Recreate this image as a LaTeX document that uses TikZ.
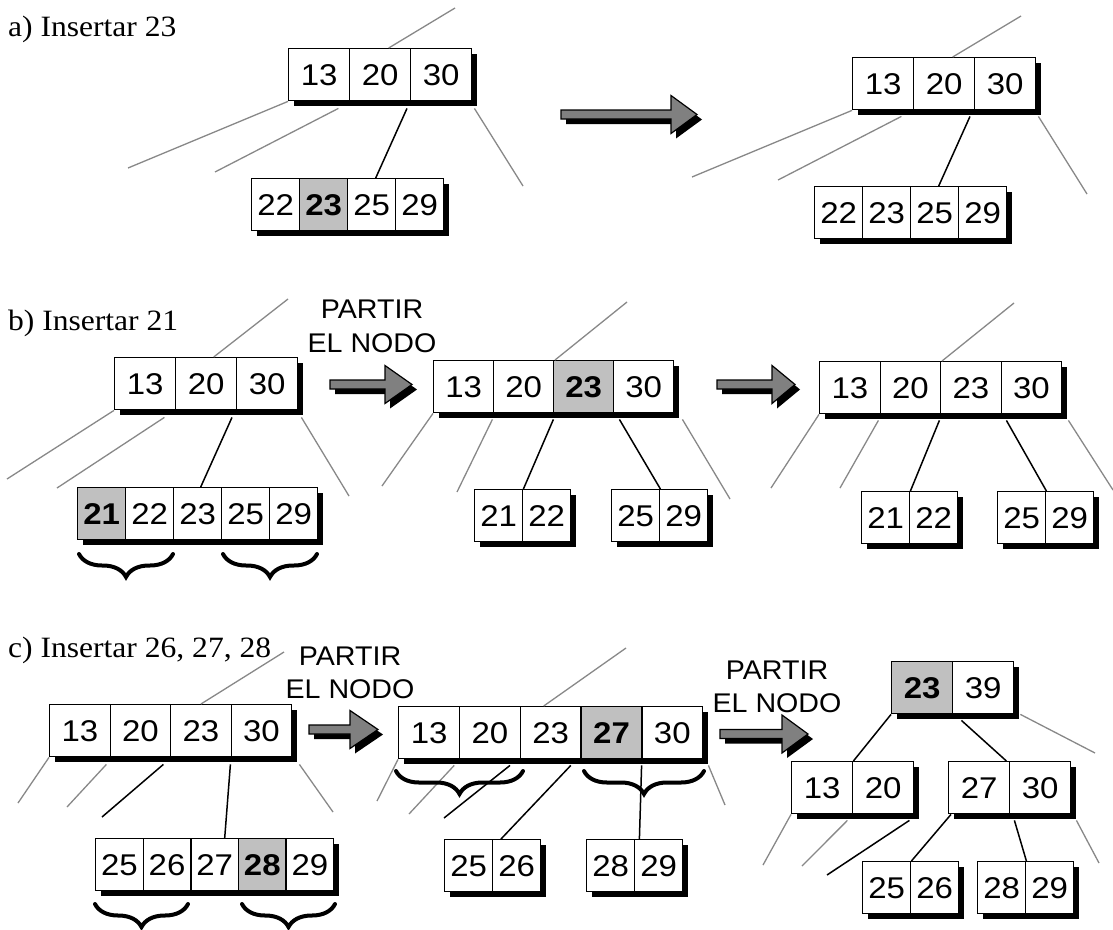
\documentclass[tikz,border=0pt]{standalone}
\usepackage{fontspec}
\setmainfont{Liberation Serif}[FakeStretch=1.07]
\newfontfamily\hel{Liberation Sans}[FakeStretch=1.1]
\newfontfamily\help{Liberation Sans}[FakeStretch=1.06]
\usetikzlibrary{calc,decorations.pathreplacing}
\definecolor{hlgray}{HTML}{C0C0C0}
\definecolor{linegray}{HTML}{888888}
\definecolor{arrowgray}{HTML}{808080}
\tikzset{
  cell/.style={draw=black, line width=1.4pt, fill=white, inner sep=0pt,
    minimum height=52pt, anchor=north west, font=\hel\fontsize{30}{32}\selectfont},
  nrm/.style={},
  hl/.style={fill=hlgray, font=\hel\bfseries\fontsize{30}{32}\selectfont},
  glink/.style={draw=linegray, line width=1.3pt},
  klink/.style={draw=black, line width=1.5pt},
  bracestyle/.style={draw=black, line width=4pt, line cap=round, decorate,
    decoration={brace, mirror, amplitude=23pt}},
  blockarrow/.style={fill=arrowgray, draw=black, line width=1.2pt, line join=miter},
  lbl/.style={font=\fontsize{29.5}{31}\selectfont, anchor=base west, inner sep=0pt},
  partir/.style={font=\help\fontsize{27}{30}\selectfont, anchor=base, inner sep=0pt},
}
% name, x, y, cell width, number of cells, list value/style
\newcommand{\bnode}[6]{%
  \fill[black] (#2+6,#3+6) rectangle ++(#4*#5,52);
  \foreach \v/\s [count=\i] in {#6} {
    \node[cell,\s,minimum width=#4pt] (#1-\i) at ({#2+(\i-1)*#4},#3) {\v};
  }%
}
% x0, x head base, x tip, y centre
\newcommand{\barrow}[4]{%
  \begin{scope}[shift={(5,5)}]
    \fill[black] (#1,#4-4.5) -- (#2,#4-4.5) -- (#2,#4-19) -- (#3,#4) -- (#2,#4+19) -- (#2,#4+4.5) -- (#1,#4+4.5) -- cycle;
  \end{scope}
  \path[blockarrow] (#1,#4-4.5) -- (#2,#4-4.5) -- (#2,#4-19) -- (#3,#4) -- (#2,#4+19) -- (#2,#4+4.5) -- (#1,#4+4.5) -- cycle;
}
\begin{document}
\begin{tikzpicture}[x=1pt,y=-1pt]
\useasboundingbox (0,0) rectangle (1113,929);

% ---------------- labels ----------------
\node[lbl] (la) at (8,36) {a) Insertar 23};
\node[lbl] (lb) at (8,330) {b) Insertar 21};
\node[lbl] (lc) at (8,657) {c) Insertar 26, 27, 28};
\node[partir] (pb1) at (372,318) {PARTIR};
\node[partir] (pb2) at (372,352) {EL NODO};
\node[partir] (pc1) at (350,665) {PARTIR};
\node[partir] (pc2) at (350,698) {EL NODO};
\node[partir] (pd1) at (777,679) {PARTIR};
\node[partir] (pd2) at (777,712) {EL NODO};

% ---------------- block arrows ----------------
\barrow{561}{671}{697}{114.5}
\barrow{330}{385}{412}{384.5}
\barrow{717}{772}{795}{384.5}
\barrow{309}{350}{378}{729.5}
\barrow{720}{782}{808}{734}

% ---------------- section a ----------------
\bnode{A1}{288}{48}{61}{3}{13/nrm,20/nrm,30/nrm}
\bnode{A2}{251}{178}{48}{4}{22/nrm,23/hl,25/nrm,29/nrm}
\bnode{A3}{852}{57}{61}{3}{13/nrm,20/nrm,30/nrm}
\bnode{A4}{814}{186}{48}{4}{22/nrm,23/nrm,25/nrm,29/nrm}

\coordinate (a1u) at (455,8);
\coordinate (a1l1) at (128,168);
\coordinate (a1l2) at (215,172);
\coordinate (a1r) at (523,186);
\draw[glink] ($(A1-2.north)+(8.5,0)$) -- (a1u);
\draw[glink] (A1-1.south west) -- (a1l1);
\draw[glink] ($(A1-1.south east)+(-12,7)$) -- (a1l2);
\draw[klink] ($(A1-3.south west)+(-3,7)$) -- ($(A2-3.north)+(4,0)$);
\draw[glink] ($(A1-3.south east)+(2,7)$) -- (a1r);

\coordinate (a3u) at (1021,16);
\coordinate (a3l1) at (692,177);
\coordinate (a3l2) at (778,180);
\coordinate (a3r) at (1087,194);
\draw[glink] ($(A3-2.north)+(8.5,0)$) -- (a3u);
\draw[glink] (A3-1.south west) -- (a3l1);
\draw[glink] ($(A3-1.south east)+(-13,6)$) -- (a3l2);
\draw[klink] ($(A3-3.south west)+(-4,6)$) -- ($(A4-3.north)+(4,0)$);
\draw[glink] ($(A3-3.south east)+(2,6)$) -- (a3r);

% ---------------- section b ----------------
\bnode{B1}{114}{357}{61}{3}{13/nrm,20/nrm,30/nrm}
\bnode{B2}{77}{487}{48}{5}{21/hl,22/nrm,23/nrm,25/nrm,29/nrm}
\bnode{B3}{433}{360}{60}{4}{13/nrm,20/nrm,23/hl,30/nrm}
\bnode{B4}{474}{489}{48}{2}{21/nrm,22/nrm}
\bnode{B5}{611}{489}{48}{2}{25/nrm,29/nrm}
\bnode{B6}{819}{361}{60.5}{4}{13/nrm,20/nrm,23/nrm,30/nrm}
\bnode{B7}{861}{491}{48}{2}{21/nrm,22/nrm}
\bnode{B8}{997}{491}{48}{2}{25/nrm,29/nrm}

\coordinate (b1u) at (288,299);
\coordinate (b1l1) at (7,479);
\coordinate (b1l2) at (57,488);
\coordinate (b1r) at (349,496);
\draw[glink] ($(B1-2.north)+(7.5,0)$) -- (b1u);
\draw[glink] (B1-1.south west) -- (b1l1);
\draw[glink] ($(B1-1.south east)+(-12,7)$) -- (b1l2);
\draw[klink] ($(B1-3.south west)+(-4,7)$) -- ($(B2-3.north)+(3,0)$);
\draw[glink] ($(B1-3.south east)+(3,7)$) -- (b1r);

\coordinate (b3u) at (627,302);
\coordinate (b3l1) at (382,486);
\coordinate (b3l2) at (457,492);
\coordinate (b3r) at (730,499);
\draw[glink] ($(B3-3.north west)+(2,0)$) -- (b3u);
\draw[glink] (B3-1.south west) -- (b3l1);
\draw[glink] ($(B3-1.south east)+(-2,6)$) -- (b3l2);
\draw[klink] ($(B3-2.south east)+(-1,6)$) -- (B4-1.north east);
\draw[klink] ($(B3-3.south east)+(5,6)$) -- (B5-1.north east);
\draw[glink] ($(B3-4.south east)+(8,6)$) -- (b3r);

\coordinate (b6u) at (1014,303);
\coordinate (b6l1) at (771,488);
\coordinate (b6l2) at (840,488);
\coordinate (b6r) at (1113,490);
\draw[glink] ($(B6-3.north west)+(2,0)$) -- (b6u);
\draw[glink] (B6-1.south west) -- (b6l1);
\draw[glink] ($(B6-1.south east)+(-2.5,6)$) -- (b6l2);
\draw[klink] ($(B6-2.south east)+(-2,6)$) -- (B7-1.north east);
\draw[klink] ($(B6-3.south east)+(4.5,6)$) -- (B8-1.north east);
\draw[glink] ($(B6-4.south east)+(6,6)$) -- (b6r);

% ---------------- section c ----------------
\bnode{C1}{49}{704}{60.5}{4}{13/nrm,20/nrm,23/nrm,30/nrm}
\bnode{C2}{95}{838}{47.6}{5}{25/nrm,26/nrm,27/nrm,28/hl,29/nrm}
\bnode{C3}{398}{706}{60.8}{5}{13/nrm,20/nrm,23/nrm,27/hl,30/nrm}
\bnode{C4}{444}{839}{48}{2}{25/nrm,26/nrm}
\bnode{C5}{586}{839}{48}{2}{28/nrm,29/nrm}
\bnode{C6}{891}{661}{61}{2}{23/hl,39/nrm}
\bnode{C7}{791}{761}{61}{2}{13/nrm,20/nrm}
\bnode{C8}{948}{761}{61}{2}{27/nrm,30/nrm}
\bnode{C9}{862}{861}{48}{2}{25/nrm,26/nrm}
\bnode{C10}{977}{861}{48}{2}{28/nrm,29/nrm}

\coordinate (c1u) at (284,652);
\coordinate (c1l1) at (18,803);
\coordinate (c1l2) at (67,807);
\coordinate (c1k1) at (102,817);
\coordinate (c1r) at (333,812);
\draw[glink] (C1-3.north) -- (c1u);
\draw[glink] (C1-1.south west) -- (c1l1);
\draw[glink] ($(C1-1.south east)+(-4.5,7)$) -- (c1l2);
\draw[klink] ($(C1-2.south east)+(-8,7)$) -- (c1k1);
\draw[klink] ($(C1-3.south east)+(-1.5,7)$) -- ($(C2-3.north)+(10,0)$);
\draw[glink] ($(C1-4.south east)+(7,7)$) -- (c1r);

\coordinate (c3u) at (626,648);
\coordinate (c3l1) at (377,801);
\coordinate (c3l2) at (409,814);
\coordinate (c3k1) at (444,818);
\coordinate (c3r) at (725,805);
\draw[glink] ($(C3-3.north)+(-7,0)$) -- (c3u);
\draw[glink] (C3-1.south west) -- (c3l1);
\draw[glink] ($(C3-1.south east)+(-6,6)$) -- (c3l2);
\draw[klink] ($(C3-2.south east)+(-11,6)$) -- (c3k1);
\draw[klink] ($(C3-3.south east)+(-11,6)$) -- ($(C4-2.north west)+(9,0)$);
\draw[klink] ($(C3-4.south east)+(-1,6)$) -- ($(C5-1.north east)+(4,0)$);
\draw[glink] ($(C3-5.south east)+(5,6)$) -- (c3r);

\coordinate (c6r) at (1095,753);
\draw[klink] (C6-1.south west) -- (C7-1.north east);
\draw[klink] ($(C6-1.south east)+(8,6)$) -- ($(C8-1.north east)+(-4,0)$);
\draw[glink] ($(C6-2.south east)+(6,0)$) -- (c6r);

\coordinate (c7l1) at (763,865);
\coordinate (c7l2) at (802,866);
\coordinate (c7k) at (827,875);
\draw[glink] (C7-1.south west) -- (c7l1);
\draw[glink] ($(C7-1.south east)+(-6,6)$) -- (c7l2);
\draw[klink] ($(C7-2.south east)+(-5,6)$) -- (c7k);

\coordinate (c8r) at (1099,863);
\draw[klink] ($(C8-1.south west)+(3,0)$) -- (C9-1.north east);
\draw[klink] ($(C8-1.south east)+(4,6)$) -- (C10-1.north east);
\draw[glink] ($(C8-2.south east)+(5,6)$) -- (c8r);

% ---------------- braces ----------------
\draw[bracestyle] (79,554) -- (173,554);
\draw[bracestyle] (223,554) -- (317,554);
\draw[bracestyle] (95,904) -- (188,904);
\draw[bracestyle] (242,904) -- (335,904);
\draw[bracestyle] (396,771) -- (523,771);
\draw[bracestyle] (584,771) -- (704,771);
\end{tikzpicture}
\end{document}
